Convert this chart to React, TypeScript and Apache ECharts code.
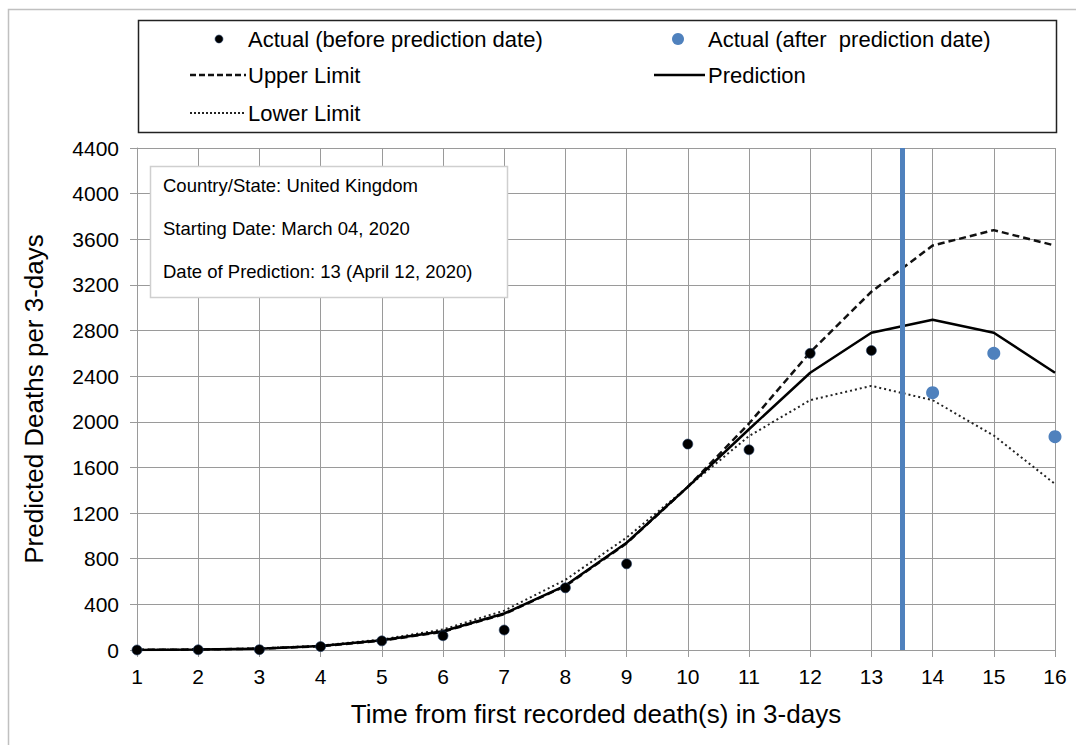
import React, { useEffect, useRef } from "react";
import * as echarts from "echarts";

const xValues = [1, 2, 3, 4, 5, 6, 7, 8, 9, 10, 11, 12, 13, 14, 15, 16];
const actualBefore = [0, 2, 3, 30, 80, 125, 175, 545, 755, 1805, 1755, 2600, 2625];
const actualAfterX = [14, 15, 16];
const actualAfter = [2255, 2600, 1870];
const prediction = [1, 4, 12, 35, 85, 165, 320, 565, 940, 1430, 1935, 2430, 2780, 2895, 2780, 2430];
const upperLimit = [1, 4, 12, 33, 82, 160, 315, 560, 935, 1430, 1985, 2610, 3140, 3545, 3680, 3545];
const lowerLimit = [1, 4, 14, 38, 92, 180, 345, 615, 985, 1430, 1875, 2190, 2315, 2190, 1880, 1455];
const predictionDate = 13.5;
const infoLines = [
  "Country/State: United Kingdom",
  "Starting Date: March 04, 2020",
  "Date of Prediction: 13 (April 12, 2020)",
];

const FONT = "'Liberation Sans', Arial, sans-serif";
const BLUE = "#4F81BD";
const GRID = "#9a9a9a";

export default function App() {
  const ref = useRef<HTMLDivElement>(null);
  useEffect(() => {
    const chart = echarts.init(ref.current!, null, { renderer: "svg" });
    const pairs = (ys: number[], xs: number[] = xValues) => ys.map((y, i) => [xs[i], y]);
    const legendText = (x: number, y: number, t: string) => ({
      type: "text",
      x,
      y,
      z: 12,
      style: { text: t, font: `22px ${FONT}`, fill: "#000", textVerticalAlign: "middle" },
    });
    chart.setOption({
      animation: false,
      backgroundColor: "#fff",
      grid: { left: 137, right: 21, top: 148, bottom: 95, containLabel: false },
      xAxis: {
        type: "value",
        min: 1,
        max: 16,
        interval: 1,
        name: "Time from first recorded death(s) in 3-days",
        nameLocation: "middle",
        nameGap: 51,
        nameTextStyle: { fontFamily: FONT, fontSize: 26, color: "#000" },
        axisLine: { show: true, lineStyle: { color: GRID, width: 1 } },
        axisTick: { show: true, length: 7, lineStyle: { color: GRID } },
        axisLabel: { fontFamily: FONT, fontSize: 21, color: "#000", margin: 16 },
        splitLine: { show: true, lineStyle: { color: GRID, width: 1 } },
      },
      yAxis: {
        type: "value",
        min: 0,
        max: 4400,
        interval: 400,
        name: "Predicted Deaths per 3-days",
        nameLocation: "middle",
        nameGap: 90,
        nameTextStyle: { fontFamily: FONT, fontSize: 26, color: "#000" },
        axisLine: { show: true, lineStyle: { color: GRID, width: 1 } },
        axisTick: { show: true, length: 7, lineStyle: { color: GRID } },
        axisLabel: {
          fontFamily: FONT,
          fontSize: 21,
          color: "#000",
          margin: 18,
          formatter: (v: number) => String(v),
        },
        splitLine: { show: true, lineStyle: { color: GRID, width: 1 } },
      },
      series: [
        {
          name: "Lower Limit",
          type: "line",
          data: pairs(lowerLimit),
          showSymbol: false,
          lineStyle: { color: "#222", width: 2, type: [2, 3] },
          z: 3,
        },
        {
          name: "Upper Limit",
          type: "line",
          data: pairs(upperLimit),
          showSymbol: false,
          lineStyle: { color: "#111", width: 2.5, type: [7, 4] },
          z: 3,
        },
        {
          name: "Prediction",
          type: "line",
          data: pairs(prediction),
          showSymbol: false,
          lineStyle: { color: "#000", width: 2.5 },
          z: 4,
          markLine: {
            silent: true,
            symbol: "none",
            label: { show: false },
            lineStyle: { color: BLUE, width: 5, type: "solid" },
            data: [{ xAxis: predictionDate }],
          },
        },
        {
          name: "Actual (before prediction date)",
          type: "scatter",
          data: pairs(actualBefore),
          symbolSize: 10,
          itemStyle: { color: "#000", borderColor: "#1f3b63", borderWidth: 0.6, opacity: 1 },
          z: 5,
        },
        {
          name: "Actual (after  prediction date)",
          type: "scatter",
          data: pairs(actualAfter, actualAfterX),
          symbolSize: 13,
          itemStyle: { color: BLUE, opacity: 1 },
          z: 5,
        },
      ],
      graphic: [
        {
          type: "rect",
          silent: true,
          shape: { x: 8.5, y: 9.5, width: 1200, height: 900 },
          style: { fill: "none", stroke: "#c0c0c0", lineWidth: 1.5 },
          z: 0,
        },
        {
          type: "rect",
          shape: { x: 138.5, y: 20.5, width: 918, height: 112 },
          style: { fill: "#fff", stroke: "#222", lineWidth: 1.5 },
          z: 10,
        },
        { type: "circle", shape: { cx: 219, cy: 39, r: 4 }, style: { fill: "#000", stroke: "#1f3b63", lineWidth: 0.6 }, z: 11 },
        legendText(248, 39, "Actual (before prediction date)"),
        { type: "circle", shape: { cx: 678, cy: 39, r: 6 }, style: { fill: BLUE }, z: 11 },
        legendText(708, 39, "Actual (after  prediction date)"),
        {
          type: "line",
          shape: { x1: 190, y1: 75, x2: 246, y2: 75 },
          style: { stroke: "#111", lineWidth: 2.5, lineDash: [6, 3] },
          z: 11,
        },
        legendText(248, 75, "Upper Limit"),
        {
          type: "line",
          shape: { x1: 654, y1: 75, x2: 705, y2: 75 },
          style: { stroke: "#000", lineWidth: 2.5 },
          z: 11,
        },
        legendText(708, 75, "Prediction"),
        {
          type: "line",
          shape: { x1: 190, y1: 113, x2: 246, y2: 113 },
          style: { stroke: "#222", lineWidth: 2, lineDash: [2, 2] },
          z: 11,
        },
        legendText(248, 113, "Lower Limit"),
        {
          type: "rect",
          shape: { x: 150.5, y: 166.5, width: 357, height: 131 },
          style: { fill: "#fff", stroke: "#cfcfcf", lineWidth: 1.5 },
          z: 10,
        },
        ...infoLines.map((t, i) => ({
          type: "text",
          x: 163,
          y: 185 + i * 43,
          z: 12,
          style: { text: t, font: `18.5px ${FONT}`, fill: "#000", textVerticalAlign: "middle" },
        })),
      ],
    });
    return () => chart.dispose();
  }, []);
  return (
    <div
      ref={ref}
      style={{ position: "absolute", left: 0, top: 0, width: 1076, height: 745, background: "#fff" }}
    />
  );
}
